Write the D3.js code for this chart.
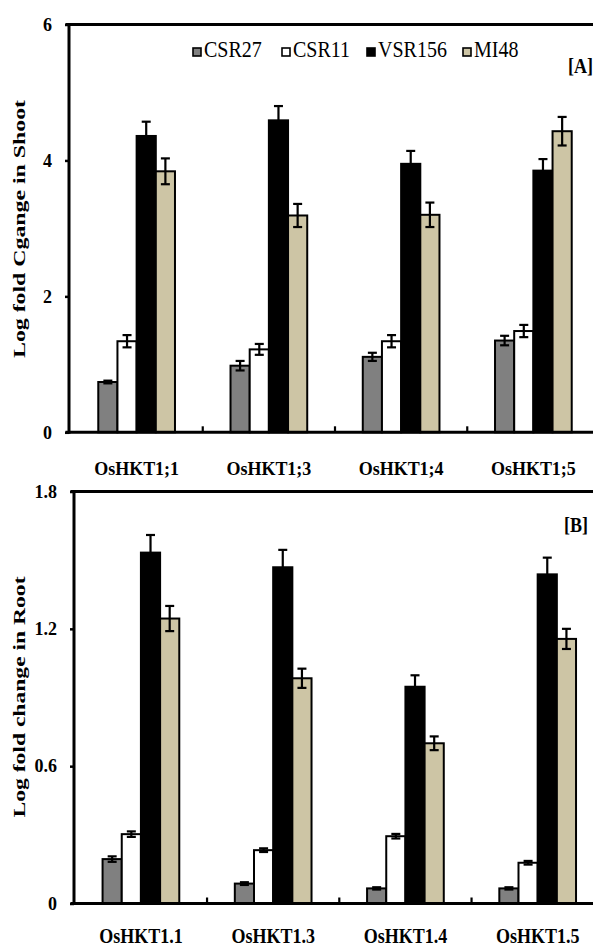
<!DOCTYPE html>
<html>
<head>
<meta charset="utf-8">
<script src="https://cdn.jsdelivr.net/npm/d3@7"></script>
<style>
  html, body { margin: 0; padding: 0; background: #fff; }
  svg { display: block; }
  text { font-family: "Liberation Serif", "Times New Roman", serif; fill: #000; }
</style>
</head>
<body>
<svg id="chart" width="593" height="949"></svg>
<script>
// ---------------- DATA ----------------
const series = ["CSR27", "CSR11", "VSR156", "MI48"];
const shootCategories = ["OsHKT1;1", "OsHKT1;3", "OsHKT1;4", "OsHKT1;5"];
const rootCategories = ["OsHKT1.1", "OsHKT1.3", "OsHKT1.4", "OsHKT1.5"];

// Panel A: Log fold change in shoot (per series, per category)
const shootCSR27  = [0.74, 0.98, 1.11, 1.35];
const shootCSR11  = [1.34, 1.22, 1.34, 1.49];
const shootVSR156 = [4.36, 4.59, 3.95, 3.85];
const shootMI48   = [3.84, 3.19, 3.20, 4.43];
const shootErrCSR27  = [0.02, 0.07, 0.06, 0.07];
const shootErrCSR11  = [0.09, 0.08, 0.09, 0.09];
const shootErrVSR156 = [0.21, 0.21, 0.19, 0.17];
const shootErrMI48   = [0.19, 0.17, 0.18, 0.21];

// Panel B: Log fold change in root
const rootCSR27  = [0.194, 0.087, 0.066, 0.066];
const rootCSR11  = [0.303, 0.233, 0.294, 0.178];
const rootVSR156 = [1.533, 1.469, 0.947, 1.438];
const rootMI48   = [1.245, 0.984, 0.700, 1.156];
const rootErrCSR27  = [0.012, 0.006, 0.005, 0.005];
const rootErrCSR11  = [0.012, 0.008, 0.010, 0.008];
const rootErrVSR156 = [0.077, 0.076, 0.050, 0.073];
const rootErrMI48   = [0.055, 0.042, 0.030, 0.044];

const shootTickValues = [0, 2, 4, 6];
const rootTickValues = [0, 0.6, 1.2, 1.8];
const shootTitle = "Log fold Cgange in Shoot";
const rootTitle = "Log fold change in Root";

// ---------------- STYLE / LAYOUT ----------------
const colors = { CSR27: "#808080", CSR11: "#ffffff", VSR156: "#000000", MI48: "#cdc5a5" };
const W = 593;
const svg = d3.select("#chart");

function buildRows(cats, vals, errs) {
  return cats.map((c, i) => ({
    cat: c,
    values: series.map(s => ({ s, v: vals[s][i], e: errs[s][i] }))
  }));
}

const panels = [
  {
    rows: buildRows(shootCategories,
      { CSR27: shootCSR27, CSR11: shootCSR11, VSR156: shootVSR156, MI48: shootMI48 },
      { CSR27: shootErrCSR27, CSR11: shootErrCSR11, VSR156: shootErrVSR156, MI48: shootErrMI48 }),
    cats: shootCategories, domain: [0, 6], ticks: shootTickValues, title: shootTitle,
    axisX: 69, xRange: [70.5, 599.5], yRange: [432.3, 24.5],
    labelY: 475, labelScale: 1.1, titleCY: 229, titleLen: 258,
    tag: "[A]", tagX: 593, tagY: 73
  },
  {
    rows: buildRows(rootCategories,
      { CSR27: rootCSR27, CSR11: rootCSR11, VSR156: rootVSR156, MI48: rootMI48 },
      { CSR27: rootErrCSR27, CSR11: rootErrCSR11, VSR156: rootErrVSR156, MI48: rootErrMI48 }),
    cats: rootCategories, domain: [0, 1.8], ticks: rootTickValues, title: rootTitle,
    axisX: 74, xRange: [74.8, 603.8], yRange: [903.5, 491.5],
    labelY: 943, labelScale: 1.22, titleCY: 697, titleLen: 241,
    tag: "[B]", tagX: 588, tagY: 531.5
  }
];

panels.forEach(p => {
  const g = svg.append("g");
  const x0 = d3.scaleBand().domain(p.cats).range(p.xRange).paddingInner(0.42).paddingOuter(0.21);
  const x1 = d3.scaleBand().domain(series).range([0, x0.bandwidth()]);
  const y = d3.scaleLinear().domain(p.domain).range(p.yRange);
  const yZero = y(0), yTop = y(p.domain[1]);

  // bars
  const grp = g.selectAll("g.grp").data(p.rows).join("g")
    .attr("transform", d => `translate(${x0(d.cat)},0)`);
  grp.selectAll("rect").data(d => d.values).join("rect")
    .attr("x", d => x1(d.s))
    .attr("y", d => y(d.v))
    .attr("width", x1.bandwidth())
    .attr("height", d => yZero - y(d.v))
    .attr("fill", d => colors[d.s])
    .attr("stroke", "#000")
    .attr("stroke-width", 2);

  // error bars
  const eb = grp.selectAll("g.err").data(d => d.values).join("g")
    .attr("transform", d => `translate(${x1(d.s) + x1.bandwidth() / 2},0)`)
    .attr("stroke", "#000").attr("stroke-width", 2.2);
  eb.append("line").attr("x1", 0).attr("x2", 0)
    .attr("y1", d => y(d.v - d.e)).attr("y2", d => y(d.v + d.e));
  eb.append("line").attr("x1", -4.5).attr("x2", 4.5)
    .attr("y1", d => y(d.v + d.e)).attr("y2", d => y(d.v + d.e));
  eb.append("line").attr("x1", -4.5).attr("x2", 4.5)
    .attr("y1", d => y(d.v - d.e)).attr("y2", d => y(d.v - d.e));

  // y axis
  const yAxis = d3.axisLeft(y).tickValues(p.ticks).tickFormat(d => String(d))
    .tickSize(4).tickPadding(13);
  const ya = g.append("g").attr("transform", `translate(${p.axisX},0)`).call(yAxis);
  ya.select(".domain").remove();
  ya.selectAll(".tick line").attr("stroke", "#000").attr("stroke-width", 2.5);
  ya.selectAll(".tick text").attr("font-size", 18).attr("font-weight", "bold")
    .attr("font-family", "Liberation Serif, serif").attr("fill", "#000");

  // frame lines: left axis, top border, baseline
  g.append("line").attr("x1", p.axisX).attr("x2", p.axisX)
    .attr("y1", yTop - 1.5).attr("y2", yZero + 1.5)
    .attr("stroke", "#000").attr("stroke-width", 3);
  g.append("line").attr("x1", p.axisX - 3.5).attr("x2", W)
    .attr("y1", yTop).attr("y2", yTop).attr("stroke", "#000").attr("stroke-width", 3.2);
  g.append("line").attr("x1", p.axisX - 3.5).attr("x2", W)
    .attr("y1", yZero).attr("y2", yZero).attr("stroke", "#000").attr("stroke-width", 3);

  // category boundary ticks (inside, upward)
  const step = x0.step();
  const bounds = p.cats.map((c, i) => p.xRange[0] + (i + 1) * step);
  g.selectAll("line.bt").data(bounds).join("line")
    .attr("x1", d => d).attr("x2", d => d)
    .attr("y1", yZero).attr("y2", yZero - 6)
    .attr("stroke", "#000").attr("stroke-width", 2.2);

  // category labels
  g.selectAll("text.cat").data(p.cats).join("text")
    .attr("text-anchor", "middle")
    .attr("font-size", 18).attr("font-weight", "bold")
    .attr("transform", d => `translate(${x0(d) + x0.bandwidth() / 2},${p.labelY}) scale(1,${p.labelScale})`)
    .text(d => d);

  // y title
  g.append("text")
    .attr("transform", `translate(25,${p.titleCY}) rotate(-90)`)
    .attr("text-anchor", "middle")
    .attr("font-size", 17).attr("font-weight", "bold")
    .attr("textLength", p.titleLen).attr("lengthAdjust", "spacingAndGlyphs")
    .text(p.title);

  // panel tag
  g.append("text")
    .attr("transform", `translate(${p.tagX},${p.tagY}) scale(1,1.15)`)
    .attr("text-anchor", "end")
    .attr("font-size", 18).attr("font-weight", "bold")
    .text(p.tag);
});

// legend (top panel)
const legendX = [193, 282, 367, 463];
const legendBase = 56.5;
const lg = svg.append("g");
series.forEach((s, i) => {
  lg.append("rect").attr("x", legendX[i]).attr("y", legendBase - 8.5)
    .attr("width", 8).attr("height", 8)
    .attr("fill", colors[s]).attr("stroke", "#000").attr("stroke-width", 1.6);
  lg.append("text")
    .attr("transform", `translate(${legendX[i] + 11},${legendBase}) scale(1,1.15)`)
    .attr("font-size", 20)
    .text(s);
});
</script>
</body>
</html>
